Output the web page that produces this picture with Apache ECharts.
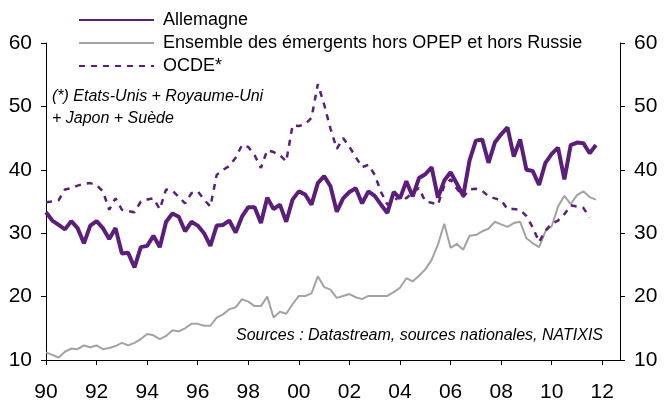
<!DOCTYPE html>
<html>
<head>
<meta charset="utf-8">
<script src="https://cdn.jsdelivr.net/npm/echarts@6/dist/echarts.min.js"></script>
<style>
  html, body { margin: 0; padding: 0; background: #fff; }
  #chart { width: 664px; height: 403px; }
</style>
</head>
<body>
<div id="chart"></div>
<script>
// quarterly series, first point = 1990 T1
var startYear = 1990;
var seriesNames = ["Allemagne", "Ensemble des émergents hors OPEP et hors Russie", "OCDE*"];
var yearTicks = [1990, 1992, 1994, 1996, 1998, 2000, 2002, 2004, 2006, 2008, 2010, 2012];

var allemagne = [
  33.3, 32.0, 31.3, 30.6, 31.9, 30.8, 28.4, 31.2, 31.9, 30.8, 29.1, 30.8, 26.8, 26.9, 24.6, 27.8,
  28.0, 29.6, 27.8, 31.8, 33.1, 32.6, 30.3, 31.8, 31.2, 30.0, 28.0, 31.2, 31.3, 32.0, 30.1, 32.6,
  34.1, 34.1, 31.6, 35.6, 33.8, 34.5, 31.8, 35.3, 36.6, 36.1, 34.5, 37.9, 39.0, 37.4, 33.4, 35.5,
  36.5, 37.1, 34.7, 36.6, 35.9, 34.5, 33.2, 36.5, 35.5, 38.2, 35.8, 38.7, 39.3, 40.4, 35.6, 38.3,
  39.6, 37.8, 35.9, 41.5, 44.6, 44.8, 41.1, 44.3, 45.6, 46.7, 42.1, 44.8, 40.0, 39.8, 37.6, 41.1,
  42.5, 43.5, 38.5, 43.9, 44.3, 44.2, 42.6, 43.9
];

var emergents = [
  11.2, 10.8, 10.4, 11.3, 11.8, 11.7, 12.3, 12.0, 12.3, 11.7, 11.9, 12.2, 12.7, 12.3, 12.7, 13.3,
  14.1, 13.9, 13.3, 13.8, 14.7, 14.5, 15.0, 15.7, 15.7, 15.4, 15.4, 16.7, 17.2, 18.0, 18.3, 19.6,
  19.2, 18.5, 18.5, 20.0, 16.7, 17.6, 17.3, 18.8, 20.1, 20.1, 20.5, 23.2, 21.5, 21.1, 19.8, 20.1,
  20.4, 19.9, 19.6, 20.1, 20.1, 20.1, 20.1, 20.7, 21.4, 22.9, 22.4, 23.3, 24.3, 25.8, 28.2, 31.5,
  27.7, 28.3, 27.4, 29.6, 29.7, 30.3, 30.7, 31.8, 31.4, 31.0, 31.6, 31.8, 29.2, 28.4, 27.8, 30.3,
  31.1, 34.2, 35.9, 34.6, 36.0, 36.6, 35.7, 35.3
];

var ocde = [
  34.9, 35.0, 35.2, 36.9, 37.1, 37.5, 37.8, 37.9, 37.6, 36.6, 33.7, 35.5, 33.7, 33.5, 33.3, 35.0,
  35.3, 35.5, 33.8, 36.9, 36.7, 35.7, 34.7, 36.3, 36.6, 35.3, 34.2, 39.2, 40.0, 40.6, 41.9, 43.9,
  43.6, 42.3, 40.3, 43.1, 42.8, 42.3, 41.3, 47.0, 46.9, 47.2, 48.2, 53.5, 50.3, 46.5, 43.3, 45.0,
  43.6, 42.0, 40.4, 40.8, 39.2, 36.5, 34.5, 35.0, 36.0, 35.5, 36.5, 37.1, 35.0, 34.8, 34.5, 37.5,
  38.5, 37.0, 35.7, 36.9, 37.0, 36.7, 35.8, 35.5, 35.2, 33.8, 33.8, 33.7, 32.7, 30.9, 28.6, 30.4,
  31.5, 32.0, 33.0, 34.4, 34.2, 34.0, 32.5
];

var purple = "#5b1e7a";
var grey = "#a3a3a3";
var font = "Liberation Sans, Arial, sans-serif";

function toPoints(values) {
  return values.map(function (v, i) {
    return [startYear + i / 4, v];
  });
}

var chart = echarts.init(document.getElementById("chart"));

var yAxisBase = {
  type: "value",
  min: 10,
  max: 60,
  interval: 10,
  splitLine: { show: false },
  axisLine: { show: true, lineStyle: { color: "#000", width: 1 } },
  axisTick: { show: true, length: 5, lineStyle: { color: "#000" } },
  axisLabel: { color: "#000", fontSize: 21, fontFamily: font, margin: 14 }
};

chart.setOption({
  animation: false,
  backgroundColor: "#fff",
  grid: { left: 46, right: 44, top: 43, bottom: 43 },
  legend: {
    data: seriesNames,
    orient: "vertical",
    left: 73,
    top: 6,
    itemWidth: 75,
    itemHeight: 14,
    itemGap: 5,
    itemStyle: { opacity: 0 },
    textStyle: { color: "#000", fontSize: 18, fontFamily: font, padding: [0, 0, 0, 4] }
  },
  xAxis: {
    type: "value",
    min: 1990,
    max: 2012.7,
    splitLine: { show: false },
    axisLine: { lineStyle: { color: "#000", width: 1 } },
    axisTick: { show: true, length: 5, customValues: yearTicks, lineStyle: { color: "#000" } },
    axisLabel: {
      customValues: yearTicks,
      color: "#000",
      fontSize: 21,
      fontFamily: font,
      margin: 22,
      formatter: function (v) {
        var y = Math.round(v) % 100;
        return (y < 10 ? "0" : "") + y;
      }
    }
  },
  yAxis: [
    Object.assign({}, yAxisBase, { position: "left" }),
    Object.assign({}, yAxisBase, { position: "right" })
  ],
  graphic: [
    {
      type: "text",
      left: 52,
      top: 86,
      style: {
        text: "(*) Etats-Unis + Royaume-Uni\n+ Japon + Suède",
        font: "italic 16px " + font,
        lineHeight: 22,
        fill: "#000"
      }
    },
    {
      type: "text",
      x: 603,
      y: 336,
      style: {
        text: "Sources : Datastream, sources nationales, NATIXIS",
        font: "italic 16px " + font,
        align: "right",
        verticalAlign: "middle",
        fill: "#000"
      }
    }
  ],
  series: [
    {
      name: seriesNames[0],
      type: "line",
      symbol: "none",
      data: toPoints(allemagne),
      itemStyle: { color: purple },
      lineStyle: { color: purple, width: 4 }
    },
    {
      name: seriesNames[1],
      type: "line",
      symbol: "none",
      data: toPoints(emergents),
      itemStyle: { color: grey },
      lineStyle: { color: grey, width: 2 }
    },
    {
      name: seriesNames[2],
      type: "line",
      symbol: "none",
      data: toPoints(ocde),
      itemStyle: { color: purple },
      lineStyle: { color: purple, width: 2.5, type: [6, 6] }
    }
  ]
});
</script>
</body>
</html>
